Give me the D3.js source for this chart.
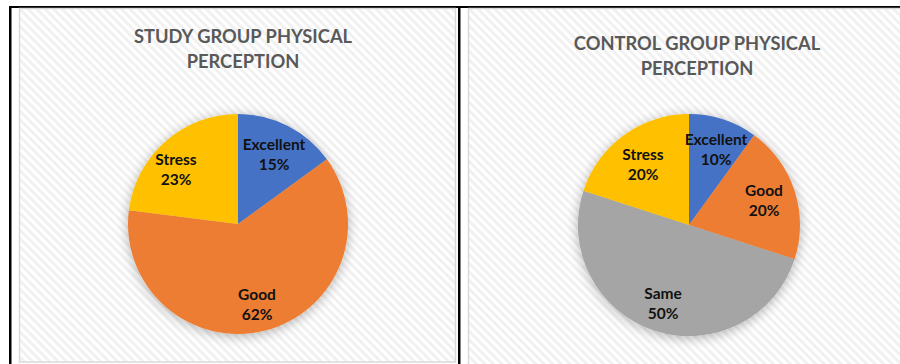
<!DOCTYPE html>
<html><head><meta charset="utf-8">
<script src="https://cdn.jsdelivr.net/npm/d3@7"></script>
<style>body{margin:0;background:#fff;}svg{display:block;}</style>
</head><body>
<svg id="c" width="900" height="364"></svg>
<script>
const studyCategories = ["Excellent", "Good", "Stress"];
const studyValues = [15, 62, 23];
const controlCategories = ["Excellent", "Good", "Same", "Stress"];
const controlValues = [10, 20, 50, 20];
const titles = [["STUDY GROUP PHYSICAL", "PERCEPTION"], ["CONTROL GROUP PHYSICAL", "PERCEPTION"]];
const colorMap = {Excellent: "#4472C4", Good: "#ED7D31", Same: "#A5A5A5", Stress: "#FFC000"};

const svg = d3.select("#c");
const defs = svg.append("defs");
const pat = defs.append("pattern").attr("id", "stripes").attr("patternUnits", "userSpaceOnUse")
  .attr("width", 6).attr("height", 6).attr("patternTransform", "rotate(-45)");
pat.append("rect").attr("width", 6).attr("height", 6).attr("fill", "#ffffff");
pat.append("rect").attr("width", 3).attr("height", 6).attr("fill", "#f1f1f1");
const f = defs.append("filter").attr("id", "sh").attr("x", "-30%").attr("y", "-30%").attr("width", "160%").attr("height", "160%");
f.append("feGaussianBlur").attr("in", "SourceAlpha").attr("stdDeviation", 6).attr("result", "b");
f.append("feOffset").attr("in", "b").attr("dx", 0).attr("dy", 2).attr("result", "o");
f.append("feComponentTransfer").attr("in", "o").attr("result", "o2")
  .append("feFuncA").attr("type", "linear").attr("slope", 0.3);
const fm = f.append("feMerge");
fm.append("feMergeNode").attr("in", "o2");
fm.append("feMergeNode").attr("in", "SourceGraphic");

// table borders
svg.append("rect").attr("x", 9).attr("y", 6).attr("width", 900).attr("height", 2).attr("fill", "#000");
svg.append("rect").attr("x", 9).attr("y", 6).attr("width", 2.5).attr("height", 364).attr("fill", "#000");
svg.append("rect").attr("x", 458).attr("y", 6).attr("width", 2.5).attr("height", 364).attr("fill", "#000");

const panels = [
  {x: 19.5, y: 8.5, w: 436, h: 353.5, cx: 238, cy: 224, r: 110, cats: studyCategories, vals: studyValues, titleX: 243, titleY: 37,
   labelPos: {Excellent: [274, 145], Good: [257, 295], Stress: [176, 160]}},
  {x: 468.5, y: 8.5, w: 440, h: 360, cx: 689, cy: 225, r: 111, cats: controlCategories, vals: controlValues, titleX: 697, titleY: 44,
   labelPos: {Excellent: [716, 140], Good: [764, 191], Same: [663, 294], Stress: [643, 155]}}
];

panels.forEach((p, i) => {
  svg.append("rect").attr("x", p.x).attr("y", p.y).attr("width", p.w).attr("height", p.h)
    .attr("fill", "url(#stripes)").attr("stroke", "#d9d9d9").attr("stroke-width", 1.5);
  const t = svg.append("text").attr("text-anchor", "middle").attr("font-family", "Lato, 'Open Sans', sans-serif")
    .attr("font-weight", "bold").attr("font-size", 18.3).attr("fill", "#595959");
  titles[i].forEach((line, k) => {
    t.append("tspan").attr("x", p.titleX).attr("y", p.titleY + 6 + k * 25).text(line);
  });
  const data = p.cats.map((c, k) => ({cat: c, val: p.vals[k]}));
  const pie = d3.pie().sort(null).value(d => d.val);
  const arc = d3.arc().innerRadius(0).outerRadius(p.r);
  const g = svg.append("g").attr("transform", `translate(${p.cx},${p.cy})`);
  const arcs = pie(data);
  g.append("g").attr("filter", "url(#sh)").selectAll("path").data(arcs).join("path")
    .attr("d", arc).attr("fill", d => colorMap[d.data.cat]);
  const lab = svg.append("g").attr("font-family", "Lato, 'Open Sans', sans-serif").attr("font-weight", "bold")
    .attr("font-size", 15.5).attr("fill", "#111").attr("text-anchor", "middle");
  arcs.forEach(a => {
    const [lx, ly] = p.labelPos[a.data.cat];
    const tx = lab.append("text");
    tx.append("tspan").attr("x", lx).attr("y", ly + 5).text(a.data.cat);
    tx.append("tspan").attr("x", lx).attr("y", ly + 25).text(Math.round(a.data.val) + "%");
  });
});
</script>
</body></html>
